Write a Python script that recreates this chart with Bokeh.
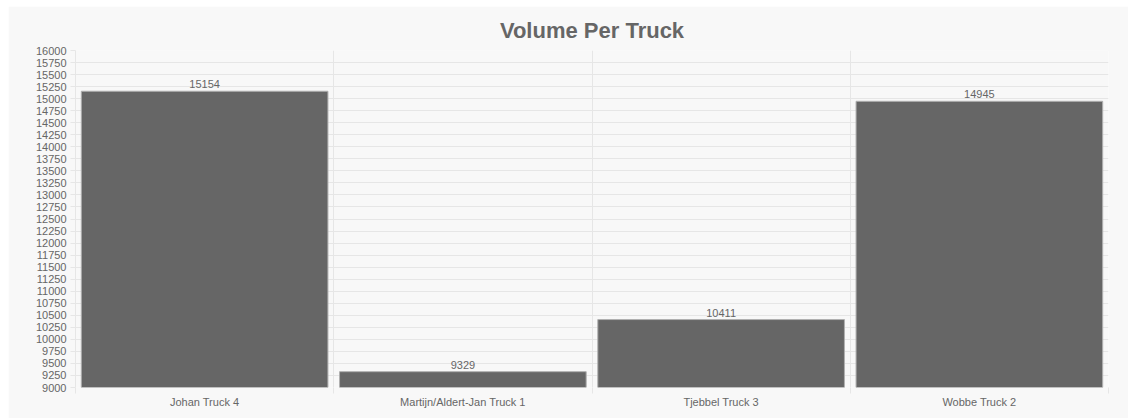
from bokeh.plotting import figure
from bokeh.models import ColumnDataSource, FixedTicker, SingleIntervalTicker, Range1d
from bokeh.core.properties import value
from bokeh.embed import file_html
from bokeh.resources import INLINE

title_text = "Volume Per Truck"
categories = ["Johan Truck 4", "Martijn/Aldert-Jan Truck 1", "Tjebbel Truck 3", "Wobbe Truck 2"]
volumes = [15154, 9329, 10411, 14945]
y_min, y_max, y_step = 9000, 16000, 250

FONT = "Liberation Sans"
TXT = "#666666"
GRID = "#e6e6e6"
BG = "#f8f8f8"

centers = [i + 0.5 for i in range(len(categories))]
src = ColumnDataSource(dict(x=centers, top=volumes, label=[str(v) for v in volumes]))

p = figure(width=1120, height=412, output_backend="svg", toolbar_location=None,
           x_range=Range1d(0, len(categories)), y_range=Range1d(y_min, y_max),
           title=title_text,
           min_border_left=67, min_border_right=20, min_border_top=44, min_border_bottom=31)
p.margin = (6, 0, 0, 8)
p.background_fill_color = BG
p.border_fill_color = BG
p.outline_line_color = None

p.title.align = "center"
p.title.text_font = FONT
p.title.text_font_size = "22px"
p.title.text_font_style = "bold"
p.title.text_color = TXT
p.title.offset = 0
p.title.standoff = 16

p.vbar(x="x", top="top", bottom=y_min, width=0.955, source=src,
       fill_color="#666666", line_color="#b0b0b0", line_width=1)
p.text(x="x", y="top", text="label", source=src, text_align="center",
       text_baseline="bottom", y_offset=-3, text_font=value(FONT),
       text_font_size="11px", text_color=TXT)

# y axis
p.yaxis.ticker = SingleIntervalTicker(interval=y_step)
p.yaxis.axis_line_color = GRID
p.yaxis.major_tick_line_color = GRID
p.yaxis.major_tick_out = 5
p.yaxis.major_tick_in = 0
p.yaxis.minor_tick_line_color = None
p.yaxis.major_label_text_font = FONT
p.yaxis.major_label_text_font_size = "11px"
p.yaxis.major_label_text_color = TXT
p.yaxis.major_label_standoff = 4
p.ygrid.ticker = SingleIntervalTicker(interval=y_step)
p.ygrid.grid_line_color = GRID

# x axis
bounds = list(range(len(categories) + 1))
p.xaxis.ticker = FixedTicker(ticks=centers, minor_ticks=bounds)
p.xaxis.major_label_overrides = {c: n for c, n in zip(centers, categories)}
p.xaxis.axis_line_color = None
p.xaxis.major_tick_line_color = None
p.xaxis.minor_tick_line_color = GRID
p.xaxis.minor_tick_out = 6
p.xaxis.minor_tick_in = 0
p.xaxis.major_label_text_font = FONT
p.xaxis.major_label_text_font_size = "11px"
p.xaxis.major_label_text_color = TXT
p.xaxis.major_label_standoff = 2
p.xgrid.ticker = FixedTicker(ticks=bounds)
p.xgrid.grid_line_color = GRID

open("out.html", "w").write(file_html(p, INLINE))
